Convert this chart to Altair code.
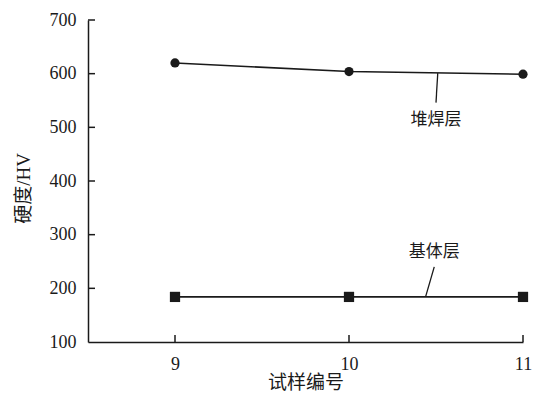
import altair as alt
import pandas as pd

# ---- data ----
samples = [9, 10, 11]
surfacing = [620, 604, 599]   # 堆焊层
base = [184, 184, 184]        # 基体层
series_names = ["堆焊层", "基体层"]

y_ticks = [100, 200, 300, 400, 500, 600, 700]
x_ticks = [9, 10, 11]

# annotation: label, label position, leader line (start on curve -> end near label)
ann_labels = ["堆焊层", "基体层"]
ann_text_x = [10.5, 10.49]
ann_text_y = [514, 268]
ann_line_x = [10.51, 10.44]
ann_line_y = [601, 184]
ann_line_x2 = [10.5, 10.49]
ann_line_y2 = [546, 240]

FONT = "Liberation Serif, Noto Sans CJK SC"
W, H = 435, 322
INK = "#1a1a1a"

df = pd.DataFrame({
    "x": samples * 2,
    "y": surfacing + base,
    "series": [series_names[0]] * 3 + [series_names[1]] * 3,
})
ann = pd.DataFrame({
    "label": ann_labels, "tx": ann_text_x, "ty": ann_text_y,
    "lx": ann_line_x, "ly": ann_line_y, "lx2": ann_line_x2, "ly2": ann_line_y2,
})
yt = pd.DataFrame({"v": y_ticks[1:]})
xt = pd.DataFrame({"v": x_ticks})

xs = alt.Scale(domain=[8.5, 11], nice=False, zero=False)
ys = alt.Scale(domain=[100, 700], nice=False, zero=False)

x_enc = alt.X("x:Q", scale=xs, axis=alt.Axis(
    values=x_ticks, format="d", tickSize=0, grid=False, title="试样编号",
    labelFont=FONT, labelFontSize=18, labelColor=INK, labelPadding=13,
    titleFont=FONT, titleFontSize=19, titleFontWeight="normal", titleColor=INK,
    titleY=40, titleBaseline="middle",
    domainColor=INK, domainWidth=1.5, labelFlush=False))
y_enc = alt.Y("y:Q", scale=ys, axis=alt.Axis(
    values=y_ticks, format="d", tickSize=0, grid=False, title="硬度/HV",
    labelFont=FONT, labelFontSize=18, labelColor=INK, labelPadding=12,
    titleFont=FONT, titleFontSize=19, titleFontWeight="normal", titleColor=INK,
    titleX=-65, titleY=168, titleAngle=270, titleAlign="center", titleBaseline="middle",
    domainColor=INK, domainWidth=1.5, labelFlush=False))

lines = alt.Chart(df).mark_line(color=INK, strokeWidth=1.6).encode(
    x=x_enc, y=y_enc, detail="series:N")

points = alt.Chart(df).mark_point(filled=True, opacity=1, color=INK).encode(
    x=alt.X("x:Q", scale=xs),
    y=alt.Y("y:Q", scale=ys),
    shape=alt.Shape("series:N", scale=alt.Scale(domain=series_names, range=["circle", "square"]), legend=None),
    size=alt.Size("series:N", scale=alt.Scale(domain=series_names, range=[85, 105]), legend=None),
)

ytick = alt.Chart(yt).mark_rule(color=INK, strokeWidth=1.5).encode(
    y=alt.Y("v:Q", scale=ys), x=alt.value(0), x2=alt.value(7))
xtick = alt.Chart(xt).mark_rule(color=INK, strokeWidth=1.5).encode(
    x=alt.X("v:Q", scale=xs), y=alt.value(H), y2=alt.value(H - 7))

leader = alt.Chart(ann).mark_rule(color=INK, strokeWidth=1.3).encode(
    x=alt.X("lx:Q", scale=xs), y=alt.Y("ly:Q", scale=ys),
    x2="lx2:Q", y2="ly2:Q")
labels = alt.Chart(ann).mark_text(font=FONT, fontSize=17, color=INK,
                                  align="center", baseline="middle").encode(
    x=alt.X("tx:Q", scale=xs), y=alt.Y("ty:Q", scale=ys), text="label:N")

chart = alt.layer(lines, points, ytick, xtick, leader, labels).properties(
    width=W, height=H,
    autosize=alt.AutoSizeParams(type="none"),
    padding={"left": 80, "top": 12, "right": 9, "bottom": 50},
    background="white",
).configure_view(stroke=None)

chart.save("out.html", embed_options={"renderer": "svg", "actions": False})
